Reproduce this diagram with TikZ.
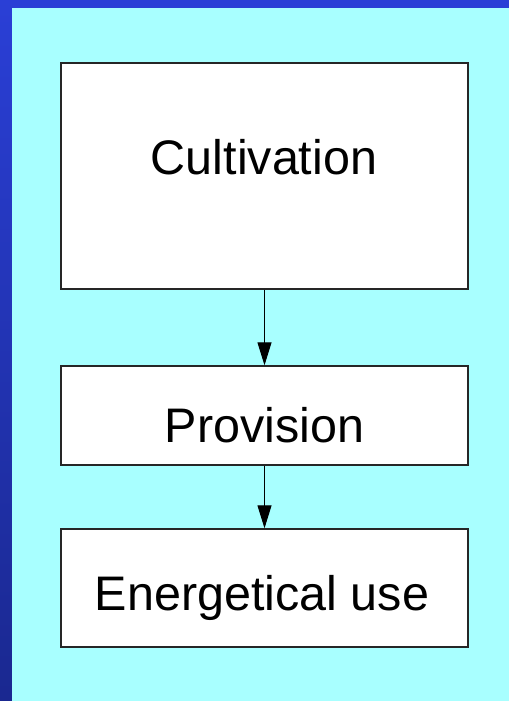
\documentclass[tikz,border=0pt]{standalone}
\usepackage{fontspec}
\setmainfont{Liberation Sans}
\usetikzlibrary{arrows.meta}
\definecolor{frameblue}{HTML}{2A3FD6}
\definecolor{framedark}{HTML}{1A2890}
\definecolor{panelcyan}{HTML}{A8FFFF}
\tikzset{
  stagebox/.style={draw=black!85, line width=1.4pt, fill=white, minimum width=407pt, inner sep=0pt},
  stagetext/.style={anchor=base, inner sep=0pt, font=\fontsize{48.5}{58}\selectfont},
  flow/.style={draw=black, line width=1pt, -{Triangle[length=23pt,width=14pt]}}
}
\begin{document}
\begin{tikzpicture}[x=1pt,y=-1pt]
  \useasboundingbox (0,0) rectangle (509,701);
  % frame: blue strip on top, shaded strip on the left, cyan panel
  \fill[frameblue] (0,0) rectangle (509,8);
  \shade[top color=frameblue, bottom color=framedark] (0,0) rectangle (12,701);
  \fill[panelcyan] (12,8) rectangle (509,701);
  % stages
  \node[stagebox, minimum height=226pt] (cult) at (264.5,176) {};
  \node[stagebox, minimum height=99pt] (prov) at (264.5,415.5) {};
  \node[stagebox, minimum height=118pt] (energy) at (264.5,588) {};
  \node[stagetext] (cultT) at (264,174) {Cultivation};
  \node[stagetext] (provT) at (264.5,442) {Provision};
  \node[stagetext] (energyT) at (262,610) {Energetical use};
  % flow between stages
  \draw[flow] (cult) -- (prov);
  \draw[flow] (prov) -- (energy);
\end{tikzpicture}
\end{document}
